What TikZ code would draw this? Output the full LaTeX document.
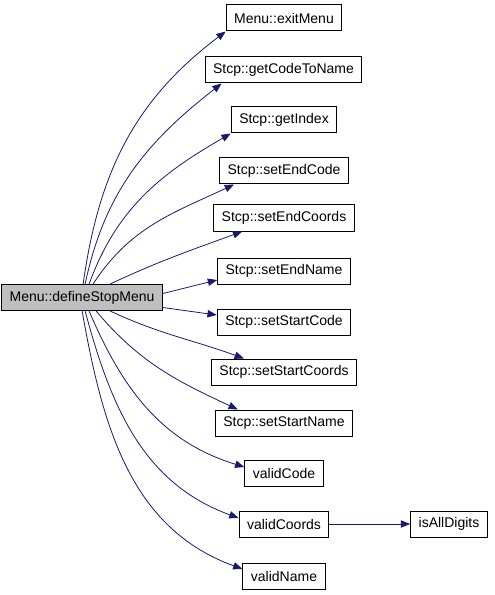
\documentclass[tikz,border=0pt]{standalone}
\usepackage{fontspec}
\setmainfont{Liberation Sans}
\usepackage{xcolor}
\usepackage{tikz}
\usetikzlibrary{arrows.meta, calc}

\definecolor{edgeblue}{RGB}{25,25,112}
\definecolor{srcgray}{RGB}{191,191,191}

\begin{document}
\begin{tikzpicture}[x=0.75pt, y=0.75pt, >={Triangle[length=7pt, width=5.5pt]}]
    \tikzset{
        func/.style={rectangle, draw=black, fill=white, line width=0.75pt, minimum height=19.5pt, inner xsep=6pt, inner ysep=0pt, font=\fontsize{10.5pt}{12pt}\selectfont},
        root/.style={func, fill=srcgray},
        call/.style={draw=edgeblue, line width=0.6pt, ->, color=edgeblue}
    }
    \useasboundingbox (0,0) rectangle (495,-595);

    \node (DefineStop) [root] at (82,-297.5) {Menu::defineStopMenu};

    \node (ExitMenu) [func] at (284,-18) {Menu::exitMenu};
    \node (GetCode) [func] at (283.5,-70) {Stcp::getCodeToName};
    \node (GetIndex) [func] at (284,-120) {Stcp::getIndex};
    \node (EndCode) [func] at (284,-171) {Stcp::setEndCode};
    \node (EndCoords) [func] at (284,-218) {Stcp::setEndCoords};
    \node (EndName) [func] at (284,-271) {Stcp::setEndName};
    \node (StartCode) [func] at (284,-322) {Stcp::setStartCode};
    \node (StartCoords) [func] at (284,-372) {Stcp::setStartCoords};
    \node (StartName) [func] at (284,-423) {Stcp::setStartName};
    \node (ValidCode) [func] at (284,-473) {validCode};
    \node (ValidCoords) [func] at (284,-524) {validCoords};
    \node (AllDigits) [func] at (449,-524) {isAllDigits};
    \node (ValidName) [func] at (284,-576) {validName};

    % calls going up
    \draw [call] ($(DefineStop.north west)+(82,0)$) to[out=82, in=217] (ExitMenu.south west);
    \draw [call] ($(DefineStop.north west)+(84,0)$) to[out=78, in=218] ($(GetCode.south west)+(17,0)$);
    \draw [call] ($(DefineStop.north west)+(88,0)$) to[out=70, in=210] (GetIndex.south west);
    \draw [call] ($(DefineStop.north west)+(92,0)$) to[out=57, in=205] ($(EndCode.south west)+(15,0)$);
    \draw [call] ($(DefineStop.north west)+(109,0)$) to[out=25, in=200] ($(EndCoords.south west)+(29,0)$);
    \draw [call] ($(DefineStop.east)+(0,4)$) -- ($(EndName.west)+(0,-9)$);

    % calls going down
    \draw [call] ($(DefineStop.east)+(0,-10)$) -- ($(StartCode.west)+(0,7)$);
    \draw [call] ($(DefineStop.south west)+(109,0)$) to[out=-25, in=160] ($(StartCoords.north west)+(33,0)$);
    \draw [call] ($(DefineStop.south west)+(95,0)$) to[out=-50, in=155] ($(StartName.north west)+(23,0)$);
    \draw [call] ($(DefineStop.south west)+(88,0)$) to[out=-67, in=163] ($(ValidCode.west)+(0,6)$);
    \draw [call] ($(DefineStop.south west)+(84,0)$) to[out=-75, in=160] ($(ValidCoords.west)+(0,6)$);
    \draw [call] ($(DefineStop.south west)+(81,0)$) to[out=-80, in=160] ($(ValidName.west)+(0,7)$);

    \draw [call] (ValidCoords) -- (AllDigits);
\end{tikzpicture}
\end{document}
